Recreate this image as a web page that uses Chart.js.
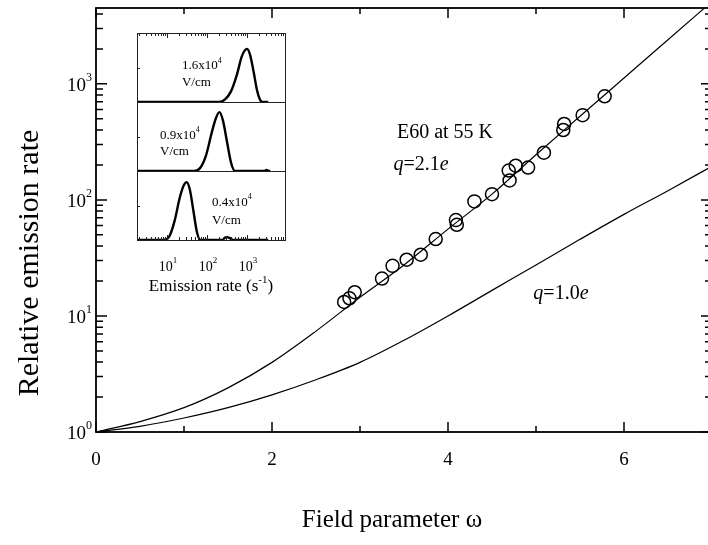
<!DOCTYPE html>
<html>
<head>
<meta charset="utf-8">
<script src="https://cdn.jsdelivr.net/npm/chart.js@4.4.0/dist/chart.umd.min.js"></script>
<style>
  html, body { margin: 0; padding: 0; background: #fff; overflow: hidden; }
  #wrap { position: relative; width: 708px; height: 545px; overflow: hidden; }
  #main, #inset { position: absolute; left: 0; top: 0; }
</style>
</head>
<body>
<div id="wrap">
  <canvas id="main" width="720" height="545"></canvas>
  <canvas id="inset" width="320" height="310"></canvas>
</div>
<script>
// fitted curves, field parameter vs relative emission rate
const omega = [0, 0.5, 1, 1.5, 2, 2.5, 3, 3.5, 4, 4.5, 5, 5.5, 6, 6.5, 7];
const fitQ21 = [1, 1.23, 1.62, 2.4, 3.98, 7.4, 14.5, 27.5, 56, 112, 245, 525, 1122, 2399, 5129];
const fitQ10 = [1, 1.12, 1.32, 1.62, 2.09, 2.82, 3.98, 6.17, 10, 16.6, 27.5, 45.7, 75, 120, 195];

// measured points (E60 at 55 K)
const measOmega = [2.82, 2.88, 2.94, 3.25, 3.37, 3.53, 3.69, 3.86, 4.09, 4.10, 4.30, 4.50, 4.69, 4.70, 4.77, 4.91, 5.09, 5.31, 5.32, 5.53, 5.78];
const measRate = [13.2, 14.2, 16.0, 21, 27, 30.5, 33.7, 46, 67, 61, 97, 112, 179, 147, 197, 190, 255, 400, 451, 537, 781];

// axis ticks
const xTickVals = [0, 2, 4, 6];
const yTickExp = [0, 1, 2, 3];

// inset spectra: emission rate (s^-1) vs signal
const spec16Rate = [1.78, 200, 282, 398, 562, 741, 1000, 1202, 1479, 1778, 2089, 2399, 3388];
const spec16Amp = [0, 0, 0.05, 0.2, 0.52, 0.86, 1.0, 0.88, 0.55, 0.22, 0.05, 0, 0];
const spec09Rate = [1.78, 48, 68, 95, 129, 166, 204, 251, 316, 398, 501, 2754, 3090, 3467, 3802];
const spec09Amp = [0, 0, 0.06, 0.3, 0.7, 0.99, 1.11, 0.95, 0.55, 0.16, 0, 0, 0.02, 0, 0];
const spec04Rate = [1.78, 8.3, 11.5, 15.5, 20.9, 26.3, 30.9, 37.2, 45.7, 56, 68, 240, 282, 316, 372, 447, 3388];
const spec04Amp = [0, 0, 0.07, 0.36, 0.8, 1.03, 1.09, 0.95, 0.55, 0.15, 0, 0, 0.045, 0.055, 0.035, 0, 0];
const insetTickExp = [1, 2, 3];

const serif = '"Liberation Serif", "Times New Roman", serif';
const pts = (xs, ys) => xs.map((v, i) => ({ x: v, y: ys[i] }));

function supText(ctx, base, exp, x, y, size, align) {
  // base text with a small raised exponent
  ctx.font = size + 'px ' + serif;
  const wb = ctx.measureText(base).width;
  ctx.font = Math.round(size * 0.62) + 'px ' + serif;
  const we = ctx.measureText(exp).width;
  let x0 = x;
  if (align === 'right') x0 = x - wb - we;
  if (align === 'center') x0 = x - (wb + we) / 2;
  ctx.textAlign = 'left';
  ctx.textBaseline = 'middle';
  ctx.font = size + 'px ' + serif;
  ctx.fillText(base, x0, y);
  ctx.font = Math.round(size * 0.62) + 'px ' + serif;
  ctx.fillText(exp, x0 + wb, y - size * 0.42);
}

function qLabel(ctx, num, x, y) {
  ctx.textAlign = 'left';
  ctx.textBaseline = 'middle';
  ctx.font = 'italic 20px ' + serif;
  ctx.fillText('q', x, y);
  let w = ctx.measureText('q').width;
  ctx.font = '20px ' + serif;
  ctx.fillText('=' + num, x + w, y);
  w += ctx.measureText('=' + num).width;
  ctx.font = 'italic 20px ' + serif;
  ctx.fillText('e', x + w, y);
}

const mainFrame = {
  id: 'mainFrame',
  afterDraw(chart) {
    const { ctx, chartArea: a, scales: { x, y } } = chart;
    ctx.save();
    ctx.strokeStyle = '#000';
    ctx.fillStyle = '#000';
    ctx.lineWidth = 1.8;
    ctx.strokeRect(a.left, a.top, a.right - a.left, a.bottom - a.top);

    ctx.lineWidth = 1.5;
    ctx.beginPath();
    for (let v = 0; v <= 7; v++) {
      const px = x.getPixelForValue(v);
      const len = v % 2 === 0 ? 10 : 6;
      ctx.moveTo(px, a.bottom); ctx.lineTo(px, a.bottom - len);
      ctx.moveTo(px, a.top); ctx.lineTo(px, a.top + len);
    }
    for (let d = 0; d <= 3; d++) {
      for (let m = 1; m <= 9; m++) {
        const v = m * Math.pow(10, d);
        if (v >= y.max) break;
        const py = y.getPixelForValue(v);
        const len = m === 1 ? 11 : 7;
        ctx.moveTo(a.left, py); ctx.lineTo(a.left + len, py);
        ctx.moveTo(a.right, py); ctx.lineTo(a.right - len, py);
      }
    }
    ctx.stroke();

    // tick labels
    ctx.font = '19px ' + serif;
    ctx.textAlign = 'center';
    ctx.textBaseline = 'middle';
    xTickVals.forEach(v => ctx.fillText(String(v), x.getPixelForValue(v), a.bottom + 28));
    yTickExp.forEach(e => supText(ctx, '10', String(e), a.left - 4, y.getPixelForValue(Math.pow(10, e)) + 2, 19, 'right'));

    // axis titles
    ctx.font = '25px ' + serif;
    ctx.textAlign = 'center';
    ctx.textBaseline = 'middle';
    ctx.fillText('Field parameter \u03c9', 392, 520);
    ctx.save();
    ctx.font = '30px ' + serif;
    ctx.translate(30, 263);
    ctx.rotate(-Math.PI / 2);
    ctx.fillText('Relative emission rate', 0, 0);
    ctx.restore();

    // annotations
    ctx.font = '20px ' + serif;
    ctx.textAlign = 'left';
    ctx.fillText('E60 at 55 K', x.getPixelForValue(3.42), y.getPixelForValue(377));
    qLabel(ctx, '2.1', x.getPixelForValue(3.38), y.getPixelForValue(201));
    qLabel(ctx, '1.0', x.getPixelForValue(4.97), y.getPixelForValue(15.4));
    ctx.restore();
  }
};

new Chart(document.getElementById('main'), {
  type: 'line',
  data: {
    datasets: [
      { data: pts(omega, fitQ21), borderColor: '#000', borderWidth: 1.2, pointRadius: 0, cubicInterpolationMode: 'monotone' },
      { data: pts(omega, fitQ10), borderColor: '#000', borderWidth: 1.2, pointRadius: 0, cubicInterpolationMode: 'monotone' },
      { data: pts(measOmega, measRate), showLine: false, pointRadius: 6.5, pointBorderWidth: 1.5,
        pointBorderColor: '#000', pointBackgroundColor: 'rgba(0,0,0,0)' }
    ]
  },
  options: {
    responsive: false,
    animation: false,
    layout: { padding: { left: 96, right: 8, top: 4, bottom: 113 } },
    plugins: { legend: { display: false }, tooltip: { enabled: false } },
    scales: {
      x: { type: 'linear', min: 0, max: 7, display: false },
      y: { type: 'logarithmic', min: 1, max: 4500, display: false }
    }
  },
  plugins: [mainFrame]
});

const insetFrame = {
  id: 'insetFrame',
  beforeDraw(chart) {
    const { ctx, chartArea: a } = chart;
    ctx.save();
    ctx.fillStyle = '#fff';
    ctx.fillRect(a.left, a.top, a.right - a.left, a.bottom - a.top);
    ctx.restore();
  },
  afterDraw(chart) {
    const { ctx, chartArea: a, scales } = chart;
    const x = scales.x;
    ctx.save();
    ctx.strokeStyle = '#222';
    ctx.fillStyle = '#000';
    ctx.lineWidth = 1;
    ctx.strokeRect(a.left + 0.5, a.top + 0.5, a.right - a.left, a.bottom - a.top);
    ctx.beginPath();
    ['yMid', 'yHigh'].forEach(id => {
      const b = Math.round(scales[id].bottom) + 0.5;
      ctx.moveTo(a.left, b); ctx.lineTo(a.right, b);
    });
    // log ticks on bottom and top
    for (let d = 0; d <= 3; d++) {
      for (let m = 1; m <= 9; m++) {
        const v = m * Math.pow(10, d);
        if (v <= x.min || v >= x.max) continue;
        const px = Math.round(x.getPixelForValue(v)) + 0.5;
        const len = m === 1 ? 5 : 3;
        ctx.moveTo(px, a.bottom); ctx.lineTo(px, a.bottom - len);
        ctx.moveTo(px, a.top); ctx.lineTo(px, a.top + len);
      }
    }
    // small ticks on the left edge of each panel
    ['yLow', 'yMid', 'yHigh'].forEach(id => {
      const py = Math.round(scales[id].getPixelForValue(0.65)) + 0.5;
      ctx.moveTo(a.left, py); ctx.lineTo(a.left + 3, py);
    });
    ctx.stroke();

    insetTickExp.forEach(e => supText(ctx, '10', String(e), x.getPixelForValue(Math.pow(10, e)) + 1, a.bottom + 27, 14, 'center'));

    // axis title
    ctx.font = '17px ' + serif;
    ctx.textAlign = 'left';
    ctx.textBaseline = 'middle';
    const t1 = 'Emission rate (s';
    const w1 = ctx.measureText(t1).width;
    ctx.font = '11px ' + serif;
    const w2 = ctx.measureText('-1').width;
    ctx.font = '17px ' + serif;
    const w3 = ctx.measureText(')').width;
    const x0 = (a.left + a.right) / 2 - (w1 + w2 + w3) / 2;
    ctx.fillText(t1, x0, a.bottom + 47);
    ctx.fillText(')', x0 + w1 + w2, a.bottom + 47);
    ctx.font = '11px ' + serif;
    ctx.fillText('-1', x0 + w1, a.bottom + 40);

    // field labels in each panel
    const lab = (id, txt, rate, v1, v2) => {
      const px = x.getPixelForValue(rate);
      supText(ctx, txt, '4', px, scales[id].getPixelForValue(v1), 13, 'left');
      ctx.font = '13px ' + serif;
      ctx.textAlign = 'left';
      ctx.fillText('V/cm', px, scales[id].getPixelForValue(v2));
    };
    lab('yHigh', '1.6x10', 23.7, 0.68, 0.36);
    lab('yMid', '0.9x10', 6.7, 0.67, 0.37);
    lab('yLow', '0.4x10', 133, 0.71, 0.36);
    ctx.restore();
  }
};

const specLine = { borderColor: '#000', borderWidth: 2.4, pointRadius: 0, cubicInterpolationMode: 'monotone' };

new Chart(document.getElementById('inset'), {
  type: 'line',
  data: {
    datasets: [
      Object.assign({ data: pts(spec04Rate, spec04Amp), yAxisID: 'yLow' }, specLine),
      Object.assign({ data: pts(spec09Rate, spec09Amp), yAxisID: 'yMid' }, specLine),
      Object.assign({ data: pts(spec16Rate, spec16Amp), yAxisID: 'yHigh' }, specLine)
    ]
  },
  options: {
    responsive: false,
    animation: false,
    layout: { padding: { left: 137, right: 35, top: 33, bottom: 70 } },
    plugins: { legend: { display: false }, tooltip: { enabled: false } },
    scales: {
      x: { type: 'logarithmic', min: 1.78, max: 8900, display: false },
      yLow: { type: 'linear', min: 0, max: 1.3, position: 'left', stack: 'inset', stackWeight: 1, display: false },
      yMid: { type: 'linear', min: 0, max: 1.3, position: 'left', stack: 'inset', stackWeight: 1, display: false },
      yHigh: { type: 'linear', min: 0, max: 1.3, position: 'left', stack: 'inset', stackWeight: 1, display: false }
    }
  },
  plugins: [insetFrame]
});
</script>
</body>
</html>
